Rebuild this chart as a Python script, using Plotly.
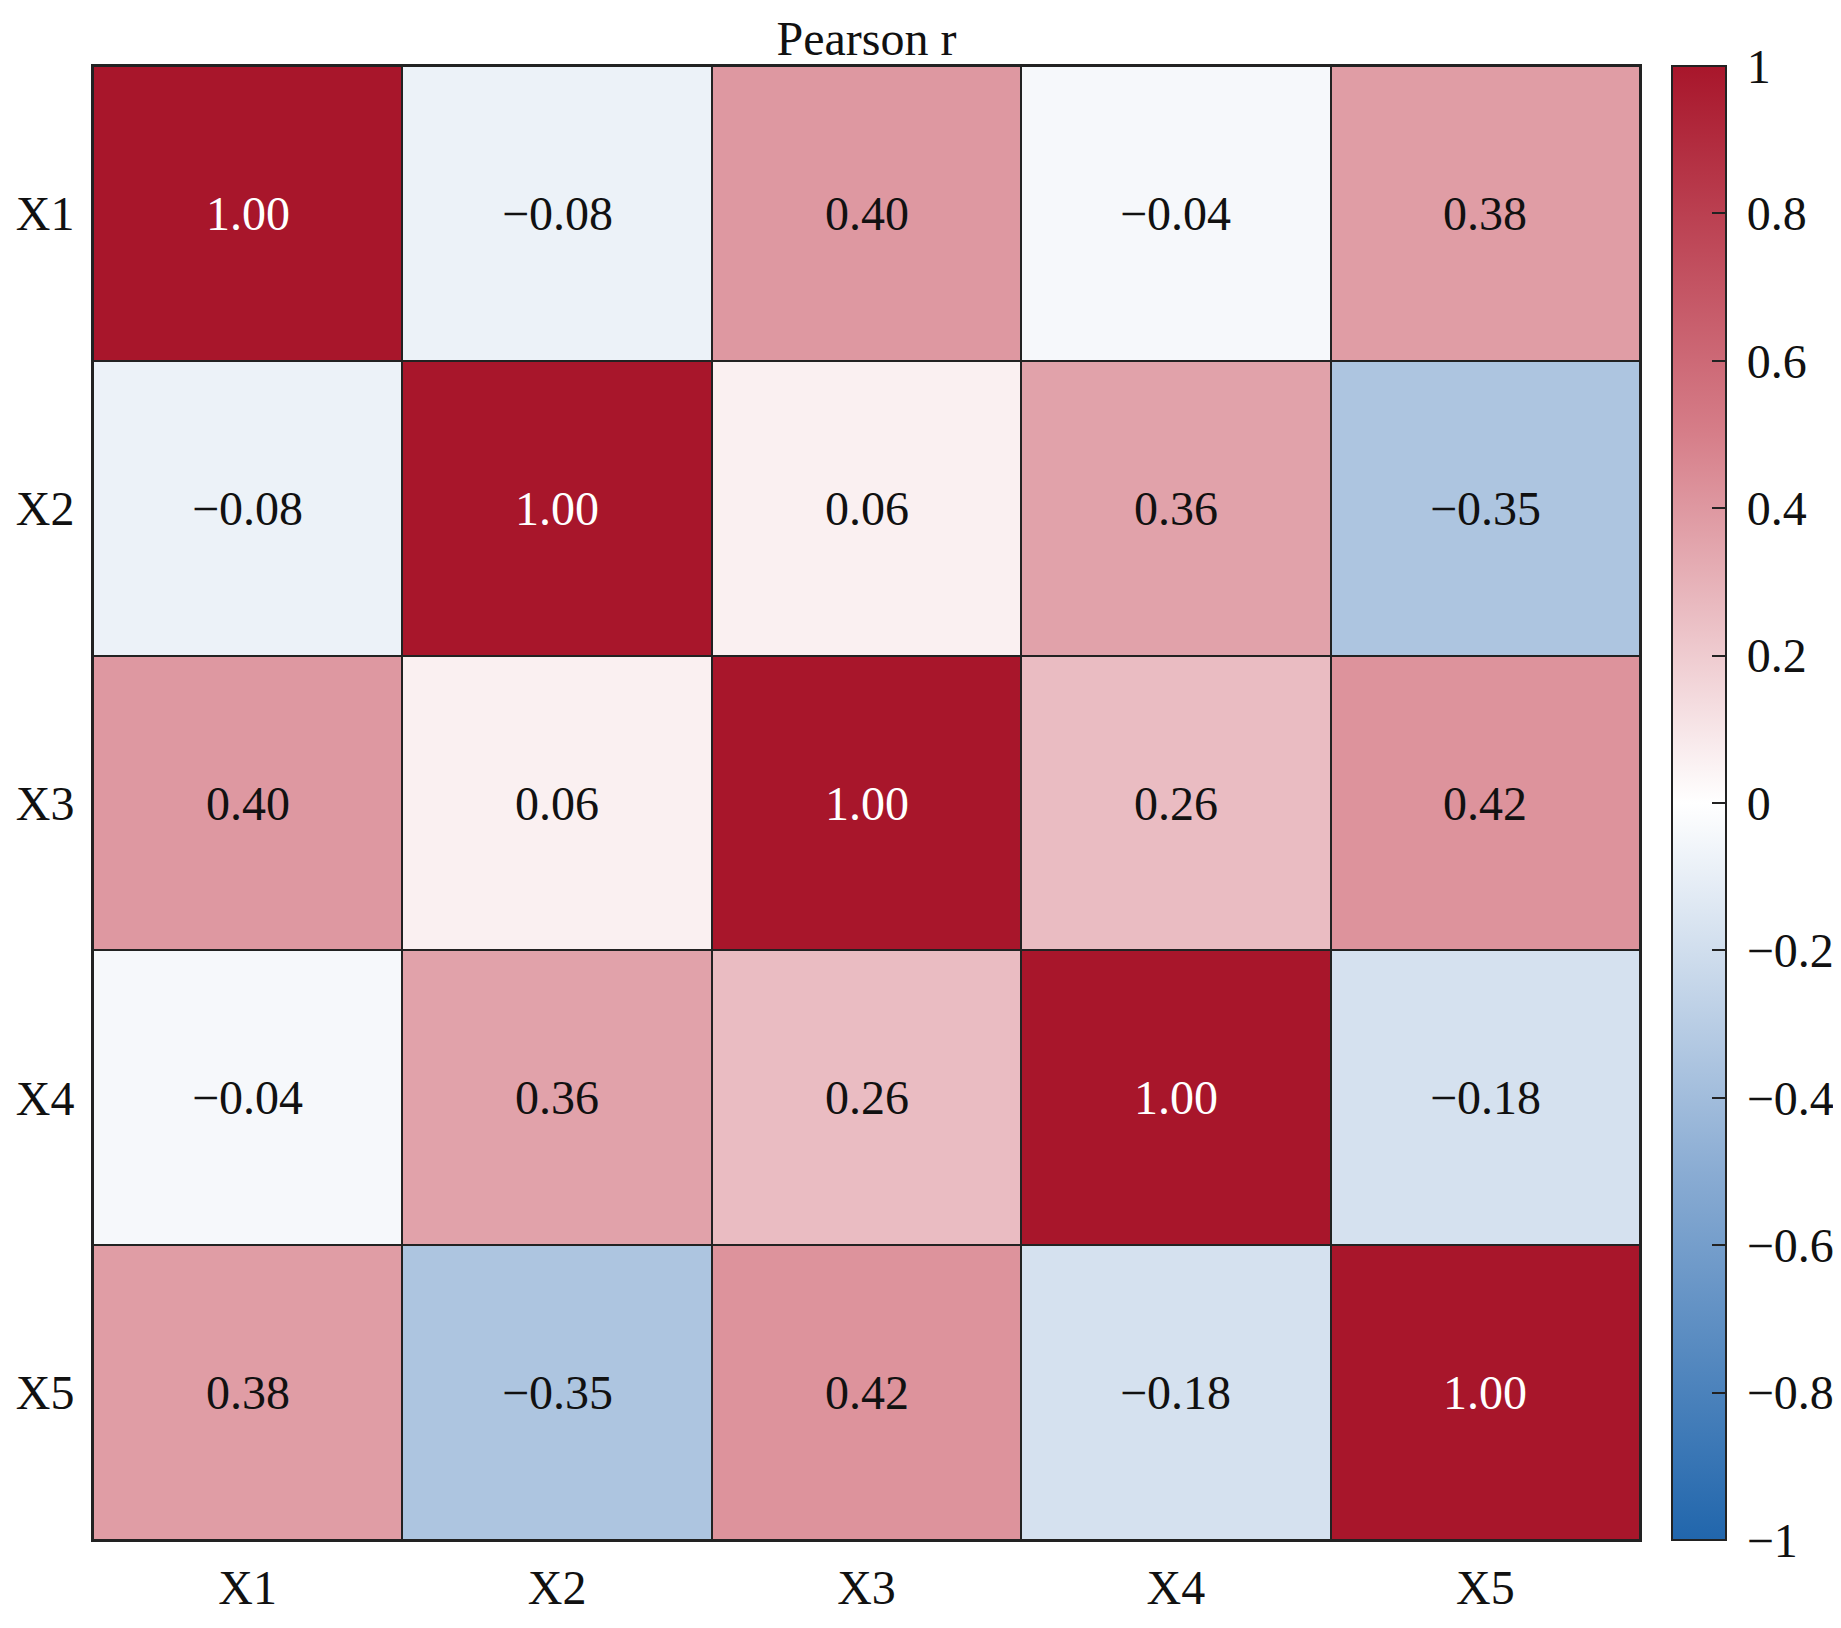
import plotly.graph_objects as go

# variable names and correlation values
labels = ["X1", "X2", "X3", "X4", "X5"]
r_x1 = [1.00, -0.08, 0.40, -0.04, 0.38]
r_x2 = [-0.08, 1.00, 0.06, 0.36, -0.35]
r_x3 = [0.40, 0.06, 1.00, 0.26, 0.42]
r_x4 = [-0.04, 0.36, 0.26, 1.00, -0.18]
r_x5 = [0.38, -0.35, 0.42, -0.18, 1.00]
cbar_ticks = [-1, -0.8, -0.6, -0.4, -0.2, 0, 0.2, 0.4, 0.6, 0.8, 1]

z = [r_x1, r_x2, r_x3, r_x4, r_x5]
FONT = "Liberation Serif, Times New Roman, serif"

# page body has an 8px margin, so the figure is 8px smaller on each side
W, H = 1833, 1620
L, R, T, B = 85, 201, 58, 88


def fmt(v, nd=2):
    '''format with a real minus sign, like matplotlib does'''
    s = f"{abs(v):.{nd}f}"
    return ("\u2212" + s) if v < 0 else s


def fmt_tick(v):
    s = f"{abs(v):g}"
    s = ("\u2212" + s) if v < 0 else s
    return "\u2009" + s  # small extra gap from the bar


fig = go.Figure()
fig.add_trace(go.Heatmap(
    z=z, x=labels, y=labels,
    zmin=-1, zmax=1,
    colorscale=[[0, "#2166ac"], [0.25, "#8aacd3"], [0.5, "#ffffff"],
                [0.75, "#d67e89"], [1, "#a8162b"]],
    xgap=2, ygap=2,
    hoverinfo="skip",
    colorbar=dict(
        x=1.0207, xanchor="left", xpad=0,
        y=0.5, yanchor="middle", len=1, ypad=0,
        thickness=54, outlinewidth=2, outlinecolor="#222",
        tickvals=cbar_ticks,
        ticktext=[fmt_tick(t) for t in cbar_ticks],
        ticks="inside", ticklen=15, tickwidth=2, tickcolor="#222",
        tickfont=dict(family=FONT, size=48, color="#111"),
    ),
))

# value labels in each cell
for i, row in enumerate(z):
    for j, v in enumerate(row):
        fig.add_annotation(
            x=labels[j], y=labels[i], text=fmt(v), showarrow=False,
            font=dict(family=FONT, size=48,
                      color="white" if abs(v) > 0.7 else "#111"))

fig.update_xaxes(showline=True, mirror=True, linewidth=2, linecolor="#222",
                 ticks="outside", ticklen=4, tickcolor="rgba(0,0,0,0)",
                 tickfont=dict(family=FONT, size=48, color="#111"),
                 showgrid=False, zeroline=False)
fig.update_yaxes(showline=True, mirror=True, linewidth=2, linecolor="#222",
                 autorange="reversed",
                 ticks="outside", ticklen=7, tickcolor="rgba(0,0,0,0)",
                 tickfont=dict(family=FONT, size=48, color="#111"),
                 showgrid=False, zeroline=False)

fig.update_layout(
    width=W, height=H,
    margin=dict(l=L, r=R, t=T, b=B, autoexpand=False),
    plot_bgcolor="#222",
    paper_bgcolor="white",
    title=dict(text="Pearson r", x=(L + (W - R)) / 2 / W, xanchor="center",
               y=1 - 30 / H, yanchor="middle",
               font=dict(family=FONT, size=48, color="#111")),
)

fig.write_html("out.html")
